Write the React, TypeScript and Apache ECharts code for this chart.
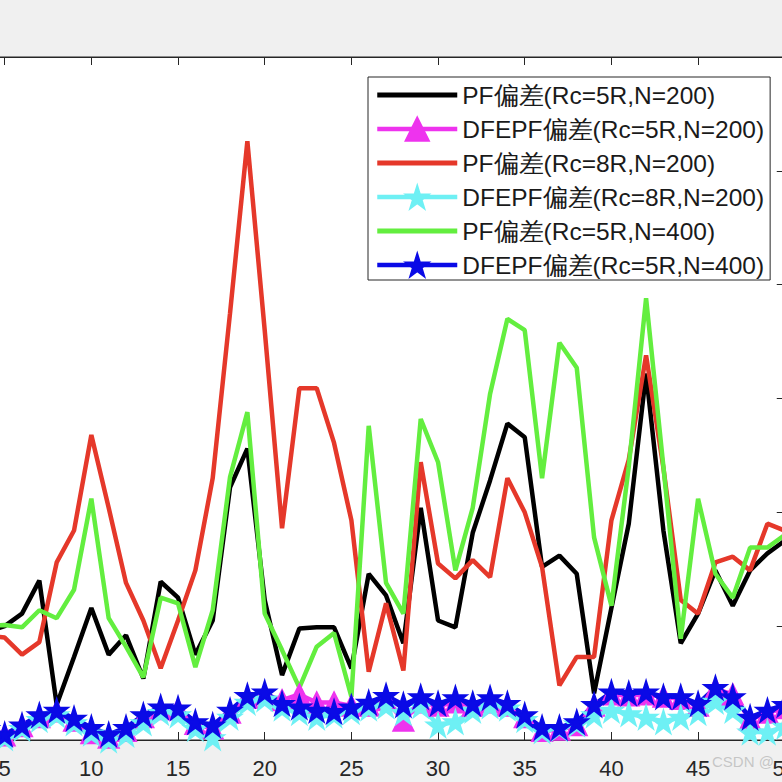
import React, { useEffect, useRef } from "react";
import * as echarts from "echarts";

const steps = [4, 5, 6, 7, 8, 9, 10, 11, 12, 13, 14, 15, 16, 17, 18, 19, 20, 21, 22, 23, 24, 25, 26, 27, 28, 29, 30, 31, 32, 33, 34, 35, 36, 37, 38, 39, 40, 41, 42, 43, 44, 45, 46, 47, 48, 49, 50];

const pfR5N200 = [0.95, 1.0, 1.11, 1.40, 0.31, 0.73, 1.16, 0.75, 0.92, 0.54, 1.39, 1.25, 0.75, 1.05, 2.22, 2.56, 1.23, 0.57, 0.98, 0.99, 0.99, 0.63, 1.46, 1.27, 0.85, 2.04, 1.05, 0.99, 1.82, 2.28, 2.78, 2.66, 1.52, 1.62, 1.46, 0.41, 1.16, 1.90, 3.22, 1.84, 0.85, 1.11, 1.49, 1.18, 1.49, 1.64, 1.75];
const dfR5N200 = [0.04, 0.04, 0.12, 0.2, 0.25, 0.17, 0.06, 0.02, 0.08, 0.2, 0.27, 0.27, 0.14, 0.1, 0.24, 0.37, 0.4, 0.35, 0.4, 0.33, 0.33, 0.3, 0.3, 0.35, 0.17, 0.33, 0.3, 0.33, 0.3, 0.33, 0.3, 0.2, 0.08, 0.09, 0.13, 0.3, 0.4, 0.39, 0.4, 0.38, 0.36, 0.3, 0.45, 0.4, 0.18, 0.24, 0.28];
const pfR8N200 = [0.92, 0.90, 0.75, 0.86, 1.56, 1.84, 2.68, 2.04, 1.38, 1.05, 0.63, 1.05, 1.49, 2.30, 3.75, 5.26, 3.6, 1.86, 3.09, 3.09, 2.61, 1.93, 0.60, 1.20, 0.61, 2.44, 1.55, 1.42, 1.58, 1.43, 2.30, 2.0, 1.52, 0.48, 0.73, 0.73, 1.93, 2.46, 3.38, 2.39, 1.23, 1.11, 1.56, 1.61, 1.49, 1.90, 1.84];
const dfR8N200 = [0.02, 0.02, 0.1, 0.18, 0.22, 0.15, 0.06, 0.0, 0.05, 0.15, 0.24, 0.22, 0.1, 0.02, 0.2, 0.33, 0.36, 0.28, 0.24, 0.2, 0.22, 0.25, 0.28, 0.3, 0.24, 0.3, 0.13, 0.16, 0.26, 0.3, 0.28, 0.18, 0.08, 0.1, 0.14, 0.22, 0.26, 0.23, 0.2, 0.16, 0.2, 0.24, 0.34, 0.26, 0.07, 0.07, 0.12];
const pfR5N400 = [1.0, 1.01, 0.99, 1.14, 1.07, 1.32, 2.12, 1.07, 0.82, 0.55, 1.25, 1.20, 0.64, 1.14, 2.31, 2.88, 1.11, 0.79, 0.46, 0.82, 0.94, 0.38, 2.76, 1.38, 1.11, 2.82, 2.44, 1.49, 2.04, 3.04, 3.70, 3.60, 2.30, 3.49, 3.27, 1.78, 1.18, 2.4, 3.88, 2.4, 0.89, 2.12, 1.46, 1.25, 1.69, 1.69, 1.80];
const dfR5N400 = [0.1, 0.05, 0.13, 0.22, 0.26, 0.19, 0.11, 0.05, 0.11, 0.22, 0.29, 0.28, 0.16, 0.13, 0.26, 0.39, 0.42, 0.32, 0.29, 0.26, 0.25, 0.29, 0.33, 0.39, 0.31, 0.38, 0.32, 0.37, 0.32, 0.37, 0.32, 0.22, 0.11, 0.11, 0.16, 0.31, 0.42, 0.41, 0.42, 0.38, 0.38, 0.32, 0.46, 0.38, 0.20, 0.26, 0.31];

const seriesNames = [
  "PF偏差(Rc=5R,N=200)",
  "DFEPF偏差(Rc=5R,N=200)",
  "PF偏差(Rc=8R,N=200)",
  "DFEPF偏差(Rc=8R,N=200)",
  "PF偏差(Rc=5R,N=400)",
  "DFEPF偏差(Rc=5R,N=400)",
];

const STAR = "path://M100,0L122.45,69.1L195.1,69.1L136.3,111.8L158.8,180.9L100,138.2L41.2,180.9L63.7,111.8L4.9,69.1L77.55,69.1Z";
const BAR = "path://M0,0H80V5H0Z";

const AXIS_COLOR = "#262626";
const FONT = "'Liberation Sans', Arial, Helvetica, sans-serif";
const LW = 4.5;

function pairs(vals: number[]) {
  return steps.map((s, i) => [s, vals[i]]);
}

export default function App() {
  const ref = useRef<HTMLDivElement>(null);
  useEffect(() => {
    if (!ref.current) return;
    const chart = echarts.init(ref.current, undefined, { renderer: "svg" });
    const mk = (name: string, vals: number[], color: string, symbol: string, size: number) => ({
      name,
      type: "line",
      data: pairs(vals),
      symbol,
      symbolSize: size,
      showSymbol: symbol !== "none",
      lineStyle: { color, width: LW },
      itemStyle: { color, borderColor: color, borderWidth: symbol !== "none" ? 2 : 0 },
      emphasis: { disabled: true },
    });
    const markItem = (name: string) => ({ name, lineStyle: { width: LW }, itemStyle: { borderWidth: 1.5 } });
    const option: any = {
      animation: false,
      backgroundColor: "#f0f0f0",
      grid: {
        left: 18,
        right: 13,
        top: 57,
        bottom: 42,
        show: true,
        backgroundColor: "#ffffff",
        borderColor: AXIS_COLOR,
        borderWidth: 1,
      },
      xAxis: [
        {
          type: "value",
          min: 0,
          max: 50,
          interval: 5,
          position: "bottom",
          axisLine: { show: true, onZero: false, lineStyle: { color: AXIS_COLOR, width: 1 } },
          axisTick: { show: true, inside: true, length: 8, lineStyle: { color: AXIS_COLOR } },
          axisLabel: { fontSize: 22, color: AXIS_COLOR, fontFamily: FONT, margin: 17 },
          splitLine: { show: false },
        },
        {
          type: "value",
          min: 0,
          max: 50,
          interval: 5,
          position: "top",
          axisLine: { show: true, onZero: false, lineStyle: { color: AXIS_COLOR, width: 1 } },
          axisTick: { show: true, inside: true, length: 8, lineStyle: { color: AXIS_COLOR } },
          axisLabel: { show: false },
          splitLine: { show: false },
        },
      ],
      yAxis: [
        {
          type: "value",
          min: 0,
          max: 6,
          interval: 1,
          position: "left",
          axisLine: { show: true, onZero: false, lineStyle: { color: AXIS_COLOR } },
          axisTick: { show: true, inside: true, length: 8, lineStyle: { color: AXIS_COLOR } },
          axisLabel: { show: false },
          splitLine: { show: false },
        },
        {
          type: "value",
          min: 0,
          max: 6,
          interval: 1,
          position: "right",
          axisLine: { show: true, onZero: false, lineStyle: { color: AXIS_COLOR } },
          axisTick: { show: true, inside: true, length: 8, lineStyle: { color: AXIS_COLOR } },
          axisLabel: { show: false },
          splitLine: { show: false },
        },
      ],
      legend: {
        orient: "vertical",
        left: 468,
        top: 77,
        itemWidth: 80,
        itemHeight: 30,
        itemGap: 4,
        padding: [3, 6, 0, 7],
        backgroundColor: "#ffffff",
        borderColor: AXIS_COLOR,
        borderWidth: 1,
        borderRadius: 0,
        selectedMode: false,
        textStyle: { fontSize: 24.5, lineHeight: 30, color: "#1a1a1a", fontFamily: FONT },
        data: [
          { name: seriesNames[0], icon: BAR },
          markItem(seriesNames[1]),
          { name: seriesNames[2], icon: BAR },
          markItem(seriesNames[3]),
          { name: seriesNames[4], icon: BAR },
          markItem(seriesNames[5]),
        ],
      },
      graphic: [
        {
          type: "text",
          left: 812,
          top: 754,
          silent: true,
          style: { text: "CSDN @", fill: "rgba(190,190,190,0.85)", font: "15px " + FONT },
        },
      ],
      series: [
        mk(seriesNames[0], pfR5N200, "#000000", "none", 0),
        mk(seriesNames[1], dfR5N200, "#ee33ee", "triangle", 20),
        mk(seriesNames[2], pfR8N200, "#e5382a", "none", 0),
        mk(seriesNames[3], dfR8N200, "#6ef0f4", STAR, 22),
        mk(seriesNames[4], pfR5N400, "#63ee3f", "none", 0),
        mk(seriesNames[5], dfR5N400, "#0a0ae6", STAR, 22),
      ],
    };
    chart.setOption(option);
    return () => chart.dispose();
  }, []);
  return (
    <div
      style={{
        position: "fixed",
        left: 0,
        top: 0,
        width: 782,
        height: 782,
        overflow: "hidden",
        background: "#f0f0f0",
      }}
    >
      <div ref={ref} style={{ position: "absolute", left: -100, top: 0, width: 900, height: 782 }} />
    </div>
  );
}
